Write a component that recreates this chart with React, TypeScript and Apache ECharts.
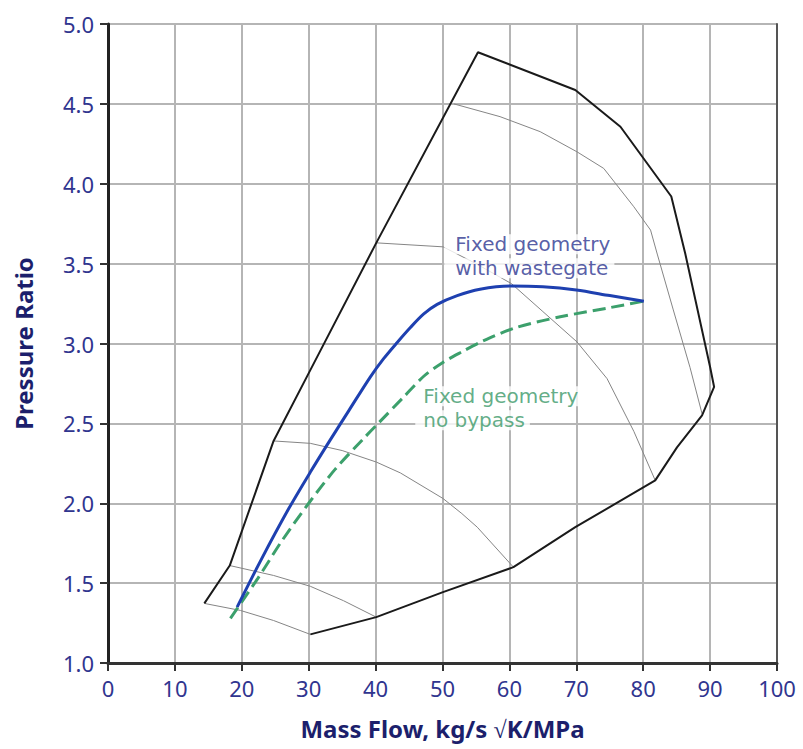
import React, { useEffect, useRef } from "react";
import * as echarts from "echarts";

// Compressor map envelope (surge line -> top -> choke -> bottom)
const envelopeX = [14.4, 18.2, 24.75, 30.2, 40.1, 55.3, 69.85, 76.6, 84.2, 86.3, 90.0, 90.6, 88.8, 85.05, 81.8, 69.85, 60.6, 50.07, 40.1, 30.25];
const envelopeY = [1.373, 1.61, 2.39, 2.83, 3.63, 4.823, 4.587, 4.357, 3.92, 3.56, 2.853, 2.728, 2.55, 2.35, 2.143, 1.85, 1.6, 1.444, 1.287, 1.179];

// Speed lines (thin grey)
const speed1X = [14.4, 19.8, 24.75, 30.25];
const speed1Y = [1.373, 1.329, 1.266, 1.179];
const speed2X = [18.2, 24.75, 30.25, 35.2, 40.1];
const speed2Y = [1.61, 1.548, 1.48, 1.39, 1.287];
const speed3X = [24.75, 30.25, 35, 40.1, 43.7, 50.07, 52.9, 55.2, 60.6];
const speed3Y = [2.39, 2.375, 2.33, 2.258, 2.19, 2.03, 1.935, 1.85, 1.6];
const speed4X = [40.1, 50.1, 55, 60.3, 65, 70.1, 74.6, 78.6, 81.8];
const speed4Y = [3.63, 3.605, 3.5, 3.375, 3.2, 3.01, 2.78, 2.45, 2.143];
const speed5X = [51.7, 58.6, 64.6, 70.1, 74.1, 78.6, 81.1, 82.1, 84.5, 87.0, 88.8];
const speed5Y = [4.5, 4.42, 4.326, 4.2, 4.096, 3.856, 3.71, 3.56, 3.21, 2.85, 2.56];

// Fixed geometry with wastegate (blue)
const wastegateX = [19.3, 23, 27, 30.25, 33.2, 36, 39.2, 41.2, 43.2, 45.2, 47.2, 49.2, 52.2, 55.6, 60.2, 65, 70, 75, 80.1];
const wastegateY = [1.35, 1.655, 1.965, 2.195, 2.395, 2.58, 2.79, 2.905, 3.005, 3.1, 3.185, 3.245, 3.3, 3.34, 3.36, 3.355, 3.335, 3.3, 3.265];

// Fixed geometry no bypass (green dashed)
const noBypassX = [18.3, 22.4, 26, 30, 34, 38.2, 40.5, 44.2, 47.2, 50, 53, 56, 61, 67.6, 75.1, 80.1];
const noBypassY = [1.28, 1.53, 1.765, 2.0, 2.215, 2.405, 2.505, 2.665, 2.795, 2.88, 2.95, 3.015, 3.1, 3.167, 3.225, 3.265];

// Annotation anchors (top-left of label box, data coords)
const wastegateLabelAt = [50.27, 3.697];
const noBypassLabelAt = [45.93, 2.745];
const wastegateLabelLines = ["Fixed geometry", "with wastegate"];
const noBypassLabelLines = ["Fixed geometry", "no bypass"];

const xTicks = { min: 0, max: 100, interval: 10 };
const yTicks = { min: 1, max: 5, interval: 0.5 };

const zip = (xs: number[], ys: number[]) => xs.map((x, i) => [x, ys[i]]);

const NAVY = "#30358f";
const NAME = "#1c1f6c";
const FONT = "Noto Sans";
const LABEL_FONT = "DejaVu Sans";

export default function App() {
  const ref = useRef<HTMLDivElement>(null);
  useEffect(() => {
    if (!ref.current) return;
    const chart = echarts.init(ref.current, null, { renderer: "svg" });
    const thin = (data: number[][]) => ({
      type: "line",
      data,
      showSymbol: false,
      symbol: "none",
      silent: true,
      z: 2,
      lineStyle: { color: "#858585", width: 1 },
    });
    const labelSeries = (at: number[], lines: string[], color: string, padL: number, padR: number) => ({
      type: "scatter",
      data: [at],
      symbolSize: 0,
      silent: true,
      z: 3,
      label: {
        show: true,
        position: [0, 0],
        formatter: lines.map((l) => `{a|${l}}`).join("\n"),
        rich: {
          a: {
            color,
            fontFamily: LABEL_FONT,
            fontSize: 20,
            lineHeight: 24,
            backgroundColor: "#ffffff",
            padding: [0, padR, 0, padL],
          },
        },
        align: "left",
      },
    });
    chart.setOption({
      animation: false,
      grid: { left: 108, right: 26, top: 24, bottom: 86, containLabel: false },
      xAxis: {
        type: "value",
        min: xTicks.min,
        max: xTicks.max,
        interval: xTicks.interval,
        name: "Mass Flow, kg/s \u221AK/MPa",
        nameLocation: "middle",
        nameGap: 53,
        nameTextStyle: { color: NAME, fontFamily: FONT, fontSize: 24, fontWeight: "bold" },
        axisLine: { show: true, onZero: false, lineStyle: { color: "#333333", width: 3 } },
        axisTick: { show: true, length: 8, lineStyle: { color: "#333333", width: 2 } },
        axisLabel: { color: NAVY, fontFamily: FONT, fontSize: 22, margin: 14 },
        splitLine: { show: true, lineStyle: { color: "#b5b5b5", width: 2 } },
      },
      yAxis: [
        {
          type: "value",
          min: yTicks.min,
          max: yTicks.max,
          interval: yTicks.interval,
          name: "Pressure Ratio",
          nameLocation: "middle",
          nameGap: 73,
          nameTextStyle: { color: NAME, fontFamily: FONT, fontSize: 24, fontWeight: "bold" },
          axisLine: { show: true, onZero: false, lineStyle: { color: "#222222", width: 3 } },
          axisTick: { show: true, length: 8, lineStyle: { color: "#333333", width: 2 } },
          axisLabel: {
            color: NAVY,
            fontFamily: FONT,
            fontSize: 22,
            margin: 14,
            formatter: (v: number) => v.toFixed(1),
          },
          splitLine: { show: true, lineStyle: { color: "#b5b5b5", width: 2 } },
        },
        {
          type: "value",
          position: "right",
          min: yTicks.min,
          max: yTicks.max,
          interval: yTicks.interval,
          axisLine: { show: true, onZero: false, lineStyle: { color: "#555555", width: 2 } },
          axisTick: { show: false },
          axisLabel: { show: false },
          splitLine: { show: false },
        },
      ],
      series: [
        thin(zip(speed1X, speed1Y)),
        thin(zip(speed2X, speed2Y)),
        thin(zip(speed3X, speed3Y)),
        thin(zip(speed4X, speed4Y)),
        thin(zip(speed5X, speed5Y)),
        {
          type: "line",
          data: zip(envelopeX, envelopeY),
          showSymbol: false,
          symbol: "none",
          silent: true,
          z: 2,
          lineStyle: { color: "#1a1a1a", width: 2 },
        },
        labelSeries(wastegateLabelAt, wastegateLabelLines, "#2c3590", 11, 6),
        labelSeries(noBypassLabelAt, noBypassLabelLines, "#3a9868", 8, 5),
        {
          type: "line",
          data: zip(noBypassX, noBypassY),
          showSymbol: false,
          symbol: "none",
          silent: true,
          smooth: 0.3,
          z: 4,
          lineStyle: { color: "#3ca06c", width: 3, type: [13, 6] },
        },
        {
          type: "line",
          data: zip(wastegateX, wastegateY),
          showSymbol: false,
          symbol: "none",
          silent: true,
          smooth: 0.3,
          z: 4,
          lineStyle: { color: "#1e40b0", width: 3 },
        },
      ],
    });
    return () => chart.dispose();
  }, []);
  return (
    <div
      ref={ref}
      style={{ position: "fixed", left: 0, top: 0, width: 803, height: 749, background: "#fff" }}
    />
  );
}
